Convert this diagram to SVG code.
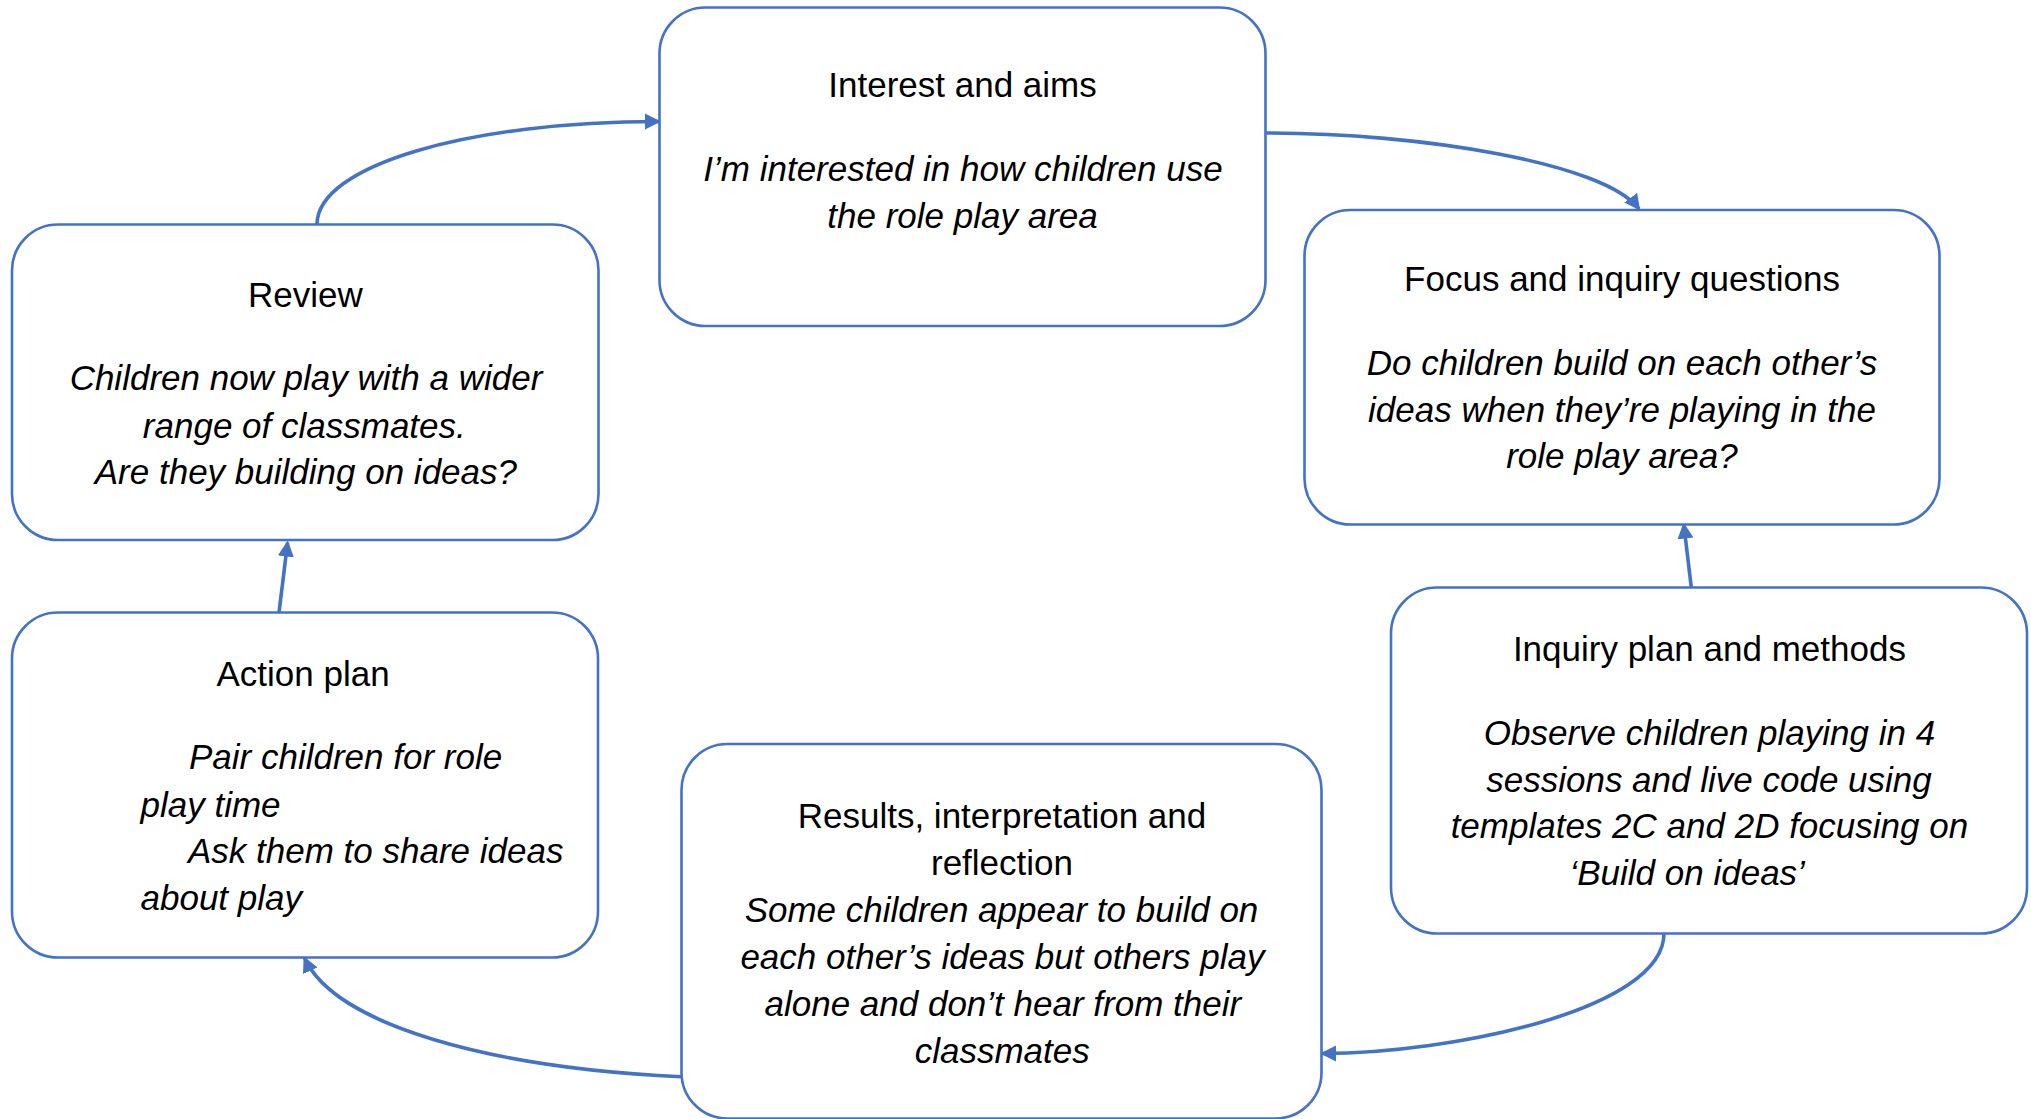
<svg xmlns="http://www.w3.org/2000/svg" width="2031" height="1119" viewBox="0 0 2031 1119">
<defs>
<style>
.box{fill:#fff;stroke:#4472C4;stroke-width:2.6}
.con{fill:none;stroke:#4472C4;stroke-width:3.6}
text{font-family:"Liberation Sans",Arial,sans-serif;font-size:35px;fill:#000}
.t{text-anchor:middle}
.b{font-style:italic;text-anchor:middle}
.bl{font-style:italic}
</style>
<marker id="ah" markerUnits="userSpaceOnUse" markerWidth="17" markerHeight="17" viewBox="0 0 17 17" refX="14" refY="8.5" orient="auto">
<path d="M0,0.5 L16,8.5 L0,16.5 z" fill="#4472C4"/>
</marker>
</defs>
<rect width="2031" height="1119" fill="#fff"/>
<g id="connectors">
<path class="con" marker-end="url(#ah)" d="M317,224.5 C317,165 470,121.5 659,121.5"/>
<path class="con" marker-end="url(#ah)" d="M1266,133 C1420,133 1605,163 1639,209"/>
<path class="con" marker-end="url(#ah)" d="M1691.3,587.5 L1683.8,524.5"/>
<path class="con" marker-end="url(#ah)" d="M1664,933.5 C1664,1010 1450,1053.5 1322,1053.5"/>
<path class="con" marker-end="url(#ah)" d="M681.5,1076.7 C490,1068 335,1025 304.5,958"/>
<path class="con" marker-end="url(#ah)" d="M279,612.5 L287.6,542.5"/>
</g>
<g id="interest">
<rect class="box" x="659.5" y="7.5" width="606" height="318.5" rx="46"/>
<text class="t" x="962.5" y="97">Interest and aims</text>
<text class="b" x="963" y="181">I’m interested in how children use</text>
<text class="b" x="962.5" y="228">the role play area</text>
</g>
<g id="focus">
<rect class="box" x="1304.5" y="210" width="635" height="314.5" rx="46"/>
<text class="t" x="1622" y="291">Focus and inquiry questions</text>
<text class="b" x="1622" y="375">Do children build on each other’s</text>
<text class="b" x="1622" y="421.5">ideas when they’re playing in the</text>
<text class="b" x="1622" y="468">role play area?</text>
</g>
<g id="inquiry">
<rect class="box" x="1391" y="587.5" width="636" height="346" rx="46"/>
<text class="t" x="1709.4" y="661">Inquiry plan and methods</text>
<text class="b" x="1709.5" y="745">Observe children playing in 4</text>
<text class="b" x="1709" y="791.7">sessions and live code using</text>
<text class="b" x="1709.4" y="838.3">templates 2C and 2D focusing on</text>
<text class="b" x="1687.2" y="885">‘Build on ideas’</text>
</g>
<g id="results">
<rect class="box" x="681.5" y="744" width="640" height="374.5" rx="46"/>
<text class="t" x="1002" y="827.7">Results, interpretation and</text>
<text class="t" x="1002" y="875">reflection</text>
<text class="b" x="1001.5" y="921.7">Some children appear to build on</text>
<text class="b" x="1002.4" y="969.3">each other’s ideas but others play</text>
<text class="b" x="1002.8" y="1015.7">alone and don’t hear from their</text>
<text class="b" x="1002.2" y="1063.3">classmates</text>
</g>
<g id="action">
<rect class="box" x="12" y="612.5" width="586" height="345" rx="46"/>
<text x="216.5" y="686">Action plan</text>
<text class="bl" x="189" y="769.3">Pair children for role</text>
<text class="bl" x="140.5" y="816.7">play time</text>
<text class="bl" x="188" y="863.3">Ask them to share ideas</text>
<text class="bl" x="140.5" y="910">about play</text>
</g>
<g id="review">
<rect class="box" x="12" y="224.5" width="586.5" height="315.5" rx="46"/>
<text class="t" x="305.3" y="306.7">Review</text>
<text class="b" x="306" y="390">Children now play with a wider</text>
<text class="b" x="304.3" y="437.5">range of classmates.</text>
<text class="b" x="305.9" y="484">Are they building on ideas?</text>
</g>
</svg>
